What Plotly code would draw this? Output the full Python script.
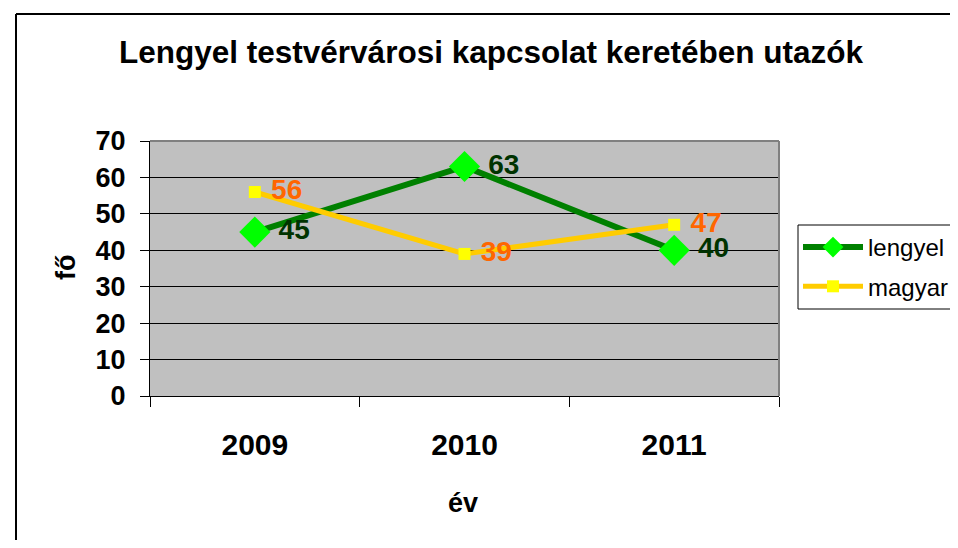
import plotly.graph_objects as go

years = ["2009", "2010", "2011"]
lengyel = [45, 63, 40]
magyar = [56, 39, 47]
y_ticks = [0, 10, 20, 30, 40, 50, 60, 70]

FONT = "Liberation Sans, Arial, sans-serif"

# page has an 8px body margin on every side: shift reference pixel coordinates
# and keep the figure small enough that the page does not overflow
OFF = 8
W, H = 958 - 2 * OFF, 548 - 2 * OFF
L, R, T, B = 150 - OFF, 779 - OFF, 141 - OFF, 396 - OFF
pw, ph = R - L, B - T

def px(x):
    return (x - OFF - L) / pw

def py(y):
    return (B - (y - OFF)) / ph

fig = go.Figure()
fig.add_trace(go.Scatter(
    x=years, y=lengyel, name="lengyel", legendgroup="a",
    mode="lines+markers+text",
    line=dict(color="#008000", width=6),
    marker=dict(symbol="diamond", size=24, color="#00FF00", line=dict(width=0)),
    text=[f" {v}" for v in lengyel], textposition="middle right",
    textfont=dict(family=FONT, size=28, color="#003300", weight="bold"),
    cliponaxis=False,
))
fig.add_trace(go.Scatter(
    x=years, y=magyar, name="magyar", legendgroup="b",
    mode="lines+markers+text",
    line=dict(color="#FFCC00", width=5),
    marker=dict(symbol="square", size=12, color="#FFFF00", line=dict(width=0)),
    text=[f" {v}" for v in magyar], textposition="middle right",
    textfont=dict(family=FONT, size=28, color="#FF6600", weight="bold"),
    cliponaxis=False,
))

fig.update_layout(
    width=W, height=H, autosize=False,
    margin=dict(l=L, r=W - R, t=T, b=H - B, pad=0, autoexpand=False),
    paper_bgcolor="white", plot_bgcolor="#C0C0C0",
    showlegend=True,
    legend=dict(x=px(798), y=py(225), xanchor="left", yanchor="top",
                borderwidth=0, bgcolor="rgba(0,0,0,0)",
                font=dict(family=FONT, size=24, color="black"),
                tracegroupgap=5, itemwidth=60),
    xaxis=dict(type="category", range=[-0.5, 2.5], tickson="boundaries",
               ticks="outside", ticklen=10, tickcolor="black", tickwidth=1,
               showline=True, linecolor="black", linewidth=1, showgrid=False,
               tickfont=dict(family=FONT, size=30, color="black", weight="bold"),
               ticklabelstandoff=22, fixedrange=True),
    yaxis=dict(range=[0, 70], tickvals=y_ticks, ticks="outside", ticklen=9,
               tickcolor="black", tickwidth=1, showline=True, linecolor="black",
               linewidth=1, showgrid=True, gridcolor="#000000", gridwidth=1,
               zeroline=False,
               tickfont=dict(family=FONT, size=27, color="black", weight="bold"),
               ticklabelstandoff=9, fixedrange=True),
    annotations=[
        dict(text="<b>Lengyel testvérvárosi kapcsolat keretében utazók</b>",
             x=px(491), y=py(52), xref="paper", yref="paper", showarrow=False,
             xanchor="center", yanchor="middle",
             font=dict(family=FONT, size=31.5, color="black")),
        dict(text="<b>fő</b>", x=px(66), y=py(268), xref="paper", yref="paper",
             showarrow=False, textangle=-90, xanchor="center", yanchor="middle",
             font=dict(family=FONT, size=27, color="black")),
        dict(text="<b>év</b>", x=px(463), y=py(503), xref="paper", yref="paper",
             showarrow=False, xanchor="center", yanchor="middle",
             font=dict(family=FONT, size=27, color="black")),
    ],
    shapes=[
        # outer chart frame (right and bottom edges lie outside the picture)
        dict(type="line", xref="paper", yref="paper", x0=px(16), x1=px(1000),
             y0=py(14), y1=py(14), line=dict(color="black", width=2),
             layer="below"),
        dict(type="line", xref="paper", yref="paper", x0=px(16), x1=px(16),
             y0=py(14), y1=py(700), line=dict(color="black", width=2),
             layer="below"),
        # legend box (its right edge lies outside the picture)
        dict(type="rect", xref="paper", yref="paper", x0=px(798), x1=px(1000),
             y0=py(225), y1=py(309), line=dict(color="black", width=1),
             fillcolor="white", layer="below"),
        # grey plot-area border top and right
        dict(type="line", xref="paper", yref="paper", x0=0, x1=1, y0=1, y1=1,
             line=dict(color="#808080", width=2)),
        dict(type="line", xref="paper", yref="paper", x0=1, x1=1, y0=0, y1=1,
             line=dict(color="#808080", width=2)),
    ],
)

fig.write_html("out.html")
